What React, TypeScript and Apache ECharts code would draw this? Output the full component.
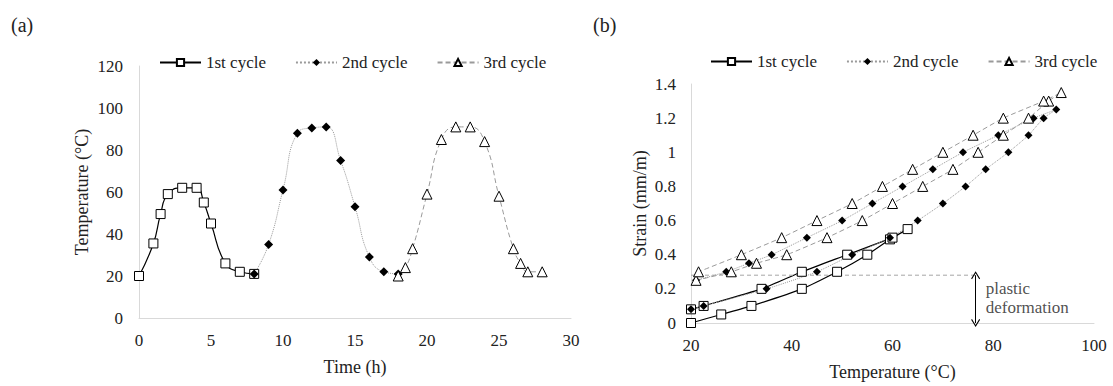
import React, { useEffect, useRef } from "react";
import * as echarts from "echarts";

// ---------- Data: (a) temperature vs time ----------
const time1 = [0, 1, 1.5, 2, 3, 4, 4.5, 5, 6, 7, 8];
const temp1 = [20, 35.5, 49.5, 59, 62, 62, 55, 45, 26, 22, 21];
const time2 = [8, 9, 10, 11, 12, 13, 14, 15, 16, 17, 18];
const temp2 = [21, 35, 61, 88, 90.5, 91, 75, 53, 29, 22, 21];
const time3 = [18, 18.5, 19, 20, 21, 22, 23, 24, 25, 26, 26.5, 27, 28];
const temp3 = [20, 24, 33, 59, 85, 91, 91, 84, 58, 33, 26, 22, 22];

// ---------- Data: (b) strain vs temperature ----------
const bTemp1 = [20, 26, 32, 42, 49, 55, 59.5, 63, 60, 51, 42, 34, 22.5, 20];
const bStrain1 = [0, 0.05, 0.1, 0.2, 0.3, 0.4, 0.49, 0.55, 0.5, 0.4, 0.3, 0.2, 0.1, 0.08];
const bTemp2 = [20, 22.5, 35, 45, 52, 59.5, 65, 70, 74.5, 78.5, 83, 87, 90, 92.5, 88, 81, 74, 68, 62, 56, 50, 43, 36, 31.5, 27, 21];
const bStrain2 = [0.08, 0.1, 0.2, 0.3, 0.4, 0.5, 0.6, 0.7, 0.8, 0.9, 1.0, 1.1, 1.2, 1.25, 1.2, 1.1, 1.0, 0.9, 0.8, 0.7, 0.6, 0.5, 0.4, 0.35, 0.3, 0.25];
const bTemp3 = [21, 28, 33, 39, 47, 54, 60, 66, 72, 77, 82, 87, 91, 93.5, 90, 82, 76, 70, 64, 58, 52, 45, 38, 30, 21.5];
const bStrain3 = [0.25, 0.3, 0.35, 0.4, 0.5, 0.6, 0.7, 0.8, 0.9, 1.0, 1.1, 1.2, 1.3, 1.35, 1.3, 1.2, 1.1, 1.0, 0.9, 0.8, 0.7, 0.6, 0.5, 0.4, 0.3];

// plastic deformation annotation
const plasticStrain = 0.28;
const plasticLineX = [20, 76.5];
const arrowX = 76.5;
const annotTextX = 78.5;
const annotTexts = ["plastic", "deformation"];
const annotTextY = [0.2, 0.09];

const seriesNames = ["1st cycle", "2nd cycle", "3rd cycle"];

const FONT = '"Liberation Serif", "Times New Roman", serif';
const TXT = "#222";

const zip = (xs: number[], ys: number[]) => xs.map((x, i) => [x, ys[i]]);

export default function App() {
  const ref = useRef<HTMLDivElement>(null);
  useEffect(() => {
    document.body.style.margin = "0";
    const chart = echarts.init(ref.current!, undefined, { renderer: "svg" });

    const s1 = (xi: number, data: number[][], size: number, smooth: any) => ({
      name: seriesNames[0], type: "line", xAxisIndex: xi, yAxisIndex: xi, data, smooth,
      symbol: "rect", symbolSize: size,
      itemStyle: { color: "#fff", borderColor: "#000", borderWidth: 1 },
      lineStyle: { color: "#000", width: 1.2, type: "solid" },
    });
    const s2 = (xi: number, data: number[][], size: number, smooth: any) => ({
      name: seriesNames[1], type: "line", xAxisIndex: xi, yAxisIndex: xi, data, smooth,
      symbol: "diamond", symbolSize: size,
      itemStyle: { color: "#000", borderColor: "#000", borderWidth: 0 },
      lineStyle: { color: "#9a9a9a", width: 1, type: "dotted" },
    });
    const s3 = (xi: number, data: number[][], size: number, smooth: any) => ({
      name: seriesNames[2], type: "line", xAxisIndex: xi, yAxisIndex: xi, data, smooth,
      symbol: "triangle", symbolSize: size,
      itemStyle: { color: "#fff", borderColor: "#000", borderWidth: 1 },
      lineStyle: { color: "#9a9a9a", width: 1, type: [5, 3] },
    });

    const axisCommon = {
      axisLine: { show: true, lineStyle: { color: "#d9d9d9", width: 1 } },
      axisTick: { show: false },
      splitLine: { show: false },
      axisLabel: { fontFamily: FONT, fontSize: 17, color: TXT },
      nameTextStyle: { fontFamily: FONT, fontSize: 18, color: TXT },
      nameLocation: "middle",
    };

    const legendCommon = {
      orient: "horizontal",
      padding: 0,
      itemWidth: 41,
      itemHeight: 9,
      itemGap: 29,
      selectedMode: false,
      textStyle: { fontFamily: FONT, fontSize: 17, color: TXT },
      data: seriesNames,
    };

    const titleStyle = { fontFamily: FONT, fontSize: 20, fontWeight: "normal", color: TXT };

    chart.setOption({
      animation: false,
      textStyle: { fontFamily: FONT },
      title: [
        { text: "(a)", left: 11, top: 15, padding: 0, textStyle: titleStyle },
        { text: "(b)", left: 593, top: 15, padding: 0, textStyle: titleStyle },
      ],
      legend: [
        { ...legendCommon, left: 159, top: 54 },
        { ...legendCommon, left: 710, top: 53 },
      ],
      grid: [
        { left: 139, top: 66, width: 432, height: 252 },
        { left: 691, top: 84, width: 403, height: 242 },
      ],
      xAxis: [
        { ...axisCommon, gridIndex: 0, type: "value", min: 0, max: 30, interval: 5, name: "Time (h)", nameGap: 40,
          axisLabel: { ...axisCommon.axisLabel, margin: 14 } },
        { ...axisCommon, gridIndex: 1, type: "value", min: 20, max: 100, interval: 20, name: "Temperature (°C)", nameGap: 40,
          axisLabel: { ...axisCommon.axisLabel, margin: 14 } },
      ],
      yAxis: [
        { ...axisCommon, gridIndex: 0, type: "value", min: 0, max: 120, interval: 20, name: "Temperature (°C)", nameGap: 48,
          axisLabel: { ...axisCommon.axisLabel, margin: 16 } },
        { ...axisCommon, gridIndex: 1, type: "value", min: 0, max: 1.4, interval: 0.2, name: "Strain (mm/m)", nameGap: 42,
          axisLabel: { ...axisCommon.axisLabel, margin: 15, formatter: (v: number) => String(Math.round(v * 10) / 10) } },
      ],
      series: [
        s1(0, zip(time1, temp1), 9, 0.5),
        s2(0, zip(time2, temp2), 9, 0.5),
        s3(0, zip(time3, temp3), 10, 0.5),
        s1(1, zip(bTemp1, bStrain1), 9, 0.2),
        s2(1, zip(bTemp2, bStrain2), 8, 0.2),
        s3(1, zip(bTemp3, bStrain3), 10, 0.2),
        {
          name: "plastic-line", type: "line", xAxisIndex: 1, yAxisIndex: 1, silent: true,
          data: plasticLineX.map((x) => [x, plasticStrain]), symbol: "none",
          lineStyle: { color: "#a6a6a6", width: 1, type: [4, 3] },
          markLine: {
            silent: true, animation: false,
            symbol: ["path://M5,0 L10,9 L9,10 L5,2.5 L1,10 L0,9 Z", "path://M5,0 L10,9 L9,10 L5,2.5 L1,10 L0,9 Z"],
            symbolSize: [9, 8],
            label: { show: false },
            lineStyle: { color: "#000", width: 1, type: "solid" },
            itemStyle: { color: "#000" },
            data: [[{ coord: [arrowX, 0] }, { coord: [arrowX, plasticStrain] }]],
          },
        },
        {
          name: "plastic-text", type: "scatter", xAxisIndex: 1, yAxisIndex: 1, silent: true,
          symbolSize: 0,
          data: annotTexts.map((t, i) => ({ name: t, value: [annotTextX, annotTextY[i]] })),
          label: {
            show: true, position: "right", distance: 0, formatter: (p: any) => p.name,
            fontFamily: FONT, fontSize: 17, color: TXT,
          },
        },
      ],
    });
    return () => chart.dispose();
  }, []);
  return <div ref={ref} style={{ width: 1113, height: 386 }} />;
}
